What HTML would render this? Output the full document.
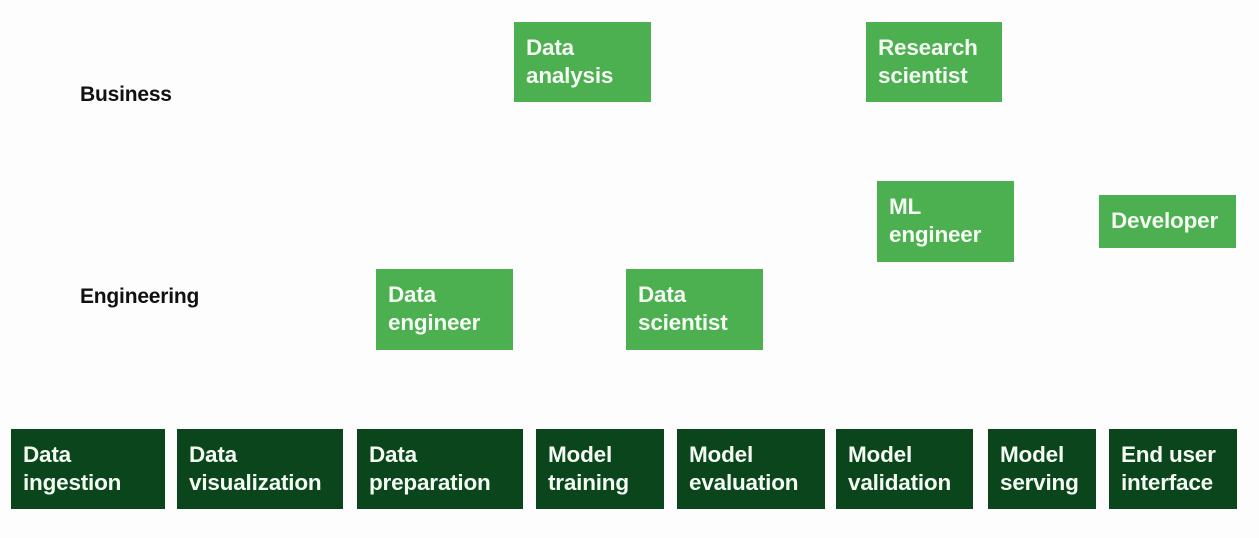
<!DOCTYPE html>
<html><head><meta charset="utf-8"><style>
body{margin:0;width:1259px;height:538px;background:#fdfdfd;position:relative;overflow:hidden;font-family:"Liberation Sans",sans-serif;}
.b{position:absolute;box-sizing:border-box;color:#f4fbf2;font-weight:bold;font-size:22.5px;line-height:28px;padding:12px 0 0 12px;letter-spacing:-0.2px}
.l{background:#4caf50}
.d{background:#0a451c}
.t{position:absolute;font-weight:bold;font-size:21px;color:#111;letter-spacing:-0.2px}
</style></head><body>
<div class="t" style="left:80px;top:83px">Business</div>
<div class="t" style="left:80px;top:285px">Engineering</div>

<div class="b l" style="left:514px;top:22px;width:137px;height:80px">Data<br>analysis</div>
<div class="b l" style="left:866px;top:22px;width:136px;height:80px">Research<br>scientist</div>
<div class="b l" style="left:877px;top:181px;width:137px;height:81px">ML<br>engineer</div>
<div class="b l" style="left:1099px;top:195px;width:137px;height:53px;padding-top:12px">Developer</div>
<div class="b l" style="left:376px;top:269px;width:137px;height:81px">Data<br>engineer</div>
<div class="b l" style="left:626px;top:269px;width:137px;height:81px">Data<br>scientist</div>

<div class="b d" style="left:11px;top:429px;width:154px;height:80px">Data<br>ingestion</div>
<div class="b d" style="left:177px;top:429px;width:166px;height:80px">Data<br>visualization</div>
<div class="b d" style="left:357px;top:429px;width:166px;height:80px">Data<br>preparation</div>
<div class="b d" style="left:536px;top:429px;width:128px;height:80px">Model<br>training</div>
<div class="b d" style="left:677px;top:429px;width:148px;height:80px">Model<br>evaluation</div>
<div class="b d" style="left:836px;top:429px;width:137px;height:80px">Model<br>validation</div>
<div class="b d" style="left:988px;top:429px;width:108px;height:80px">Model<br>serving</div>
<div class="b d" style="left:1109px;top:429px;width:128px;height:80px">End user<br>interface</div>
</body></html>
